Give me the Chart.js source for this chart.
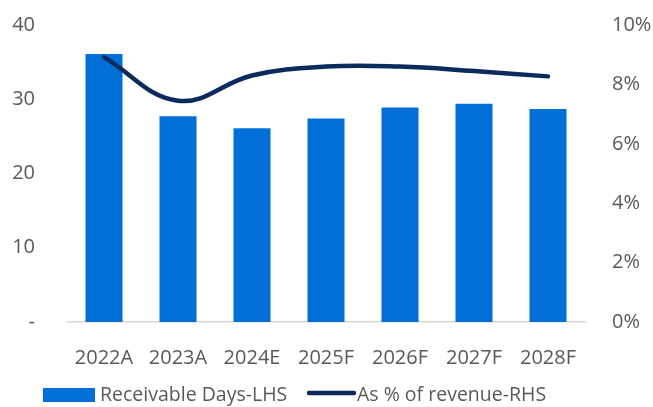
<!DOCTYPE html>
<html>
<head>
<meta charset="utf-8">
<script src="https://cdn.jsdelivr.net/npm/chart.js@4"></script>
<style>
  html, body { margin: 0; padding: 0; background: #fff; }
  #wrap { width: 653px; height: 407px; }
</style>
</head>
<body>
<div id="wrap"><canvas id="chart" width="653" height="407"></canvas></div>
<script>
// Данные графика
const years = ['2022A', '2023A', '2024E', '2025F', '2026F', '2027F', '2028F'];
const receivableDays = [36.1, 27.7, 26.1, 27.4, 28.9, 29.4, 28.7];
const pctOfRevenue = [8.92, 7.45, 8.3, 8.6, 8.6, 8.45, 8.27];
const leftTicks = [0, 10, 20, 30, 40];
const rightTicks = [0, 2, 4, 6, 8, 10];

const barColor = '#0070d8';
const lineColor = '#0b2b5c';
const textColor = '#595959';
const fontFamily = '"Open Sans", "Noto Sans", sans-serif';

// Легенда снизу, рисуем сами
const bottomLegend = {
    id: 'bottomLegend',
    afterDraw(chart) {
        const ctx = chart.ctx;
        const ds = chart.data.datasets;
        const y = 395;
        ctx.save();
        ctx.font = '19.5px ' + fontFamily;
        ctx.textBaseline = 'middle';

        // Столбцы
        ctx.fillStyle = ds[0].backgroundColor;
        ctx.fillRect(43, y - 7, 52, 14);
        ctx.fillStyle = textColor;
        ctx.fillText(ds[0].label, 100, y);

        // Линия
        ctx.strokeStyle = ds[1].borderColor;
        ctx.lineWidth = 4.5;
        ctx.lineCap = 'round';
        ctx.beginPath();
        ctx.moveTo(309, y - 2);
        ctx.lineTo(354, y - 2);
        ctx.stroke();
        ctx.fillText(ds[1].label, 357, y);
        ctx.restore();
    }
};

// Фиксированная ширина оси без лишнего отступа сверху/снизу
function fixAxisWidth(w) {
    return function (axis) {
        axis.width = w;
        axis.paddingTop = 0;
        axis.paddingBottom = 0;
    };
}

const ctx = document.getElementById('chart').getContext('2d');
const chart = new Chart(ctx, {
    type: 'bar',
    data: {
        labels: years,
        datasets: [
            {
                type: 'bar',
                label: 'Receivable Days-LHS',
                data: receivableDays,
                backgroundColor: barColor,
                borderWidth: 0,
                barPercentage: 0.5,
                categoryPercentage: 1,
                yAxisID: 'y',
                order: 1
            },
            {
                type: 'line',
                label: 'As % of revenue-RHS',
                data: pctOfRevenue,
                borderColor: lineColor,
                backgroundColor: lineColor,
                borderWidth: 4.5,
                borderCapStyle: 'round',
                pointRadius: 0,
                tension: 0.4,
                yAxisID: 'y1',
                order: 0
            }
        ]
    },
    options: {
        responsive: false,
        animation: false,
        layout: { padding: { top: 25, bottom: 35, left: 0, right: 0 } },
        plugins: {
            legend: { display: false },
            tooltip: { enabled: false }
        },
        scales: {
            x: {
                offset: true,
                grid: { display: false, drawTicks: false },
                border: { display: true, color: '#d9d9d9', width: 1.5 },
                ticks: {
                    color: textColor,
                    font: { family: fontFamily, size: 20 },
                    padding: 24,
                    maxRotation: 0,
                    autoSkip: false
                },
                afterFit(axis) {
                    axis.height = 50;
                    axis.paddingLeft = 0;
                    axis.paddingRight = 0;
                }
            },
            y: {
                position: 'left',
                min: 0,
                max: 40,
                grid: { display: false, drawTicks: false },
                border: { display: false },
                afterBuildTicks(axis) { axis.ticks = leftTicks.map(v => ({ value: v })); },
                ticks: {
                    color: textColor,
                    font: { family: fontFamily, size: 20 },
                    padding: 32,
                    callback: v => (v === 0 ? '-' : String(v))
                },
                afterFit: fixAxisWidth(67)
            },
            y1: {
                position: 'right',
                min: 0,
                max: 10,
                grid: { display: false, drawTicks: false },
                border: { display: false },
                afterBuildTicks(axis) { axis.ticks = rightTicks.map(v => ({ value: v })); },
                ticks: {
                    color: textColor,
                    font: { family: fontFamily, size: 20 },
                    padding: 27,
                    callback: v => v + '%'
                },
                afterFit: fixAxisWidth(68)
            }
        }
    },
    plugins: [bottomLegend]
});
</script>
</body>
</html>
